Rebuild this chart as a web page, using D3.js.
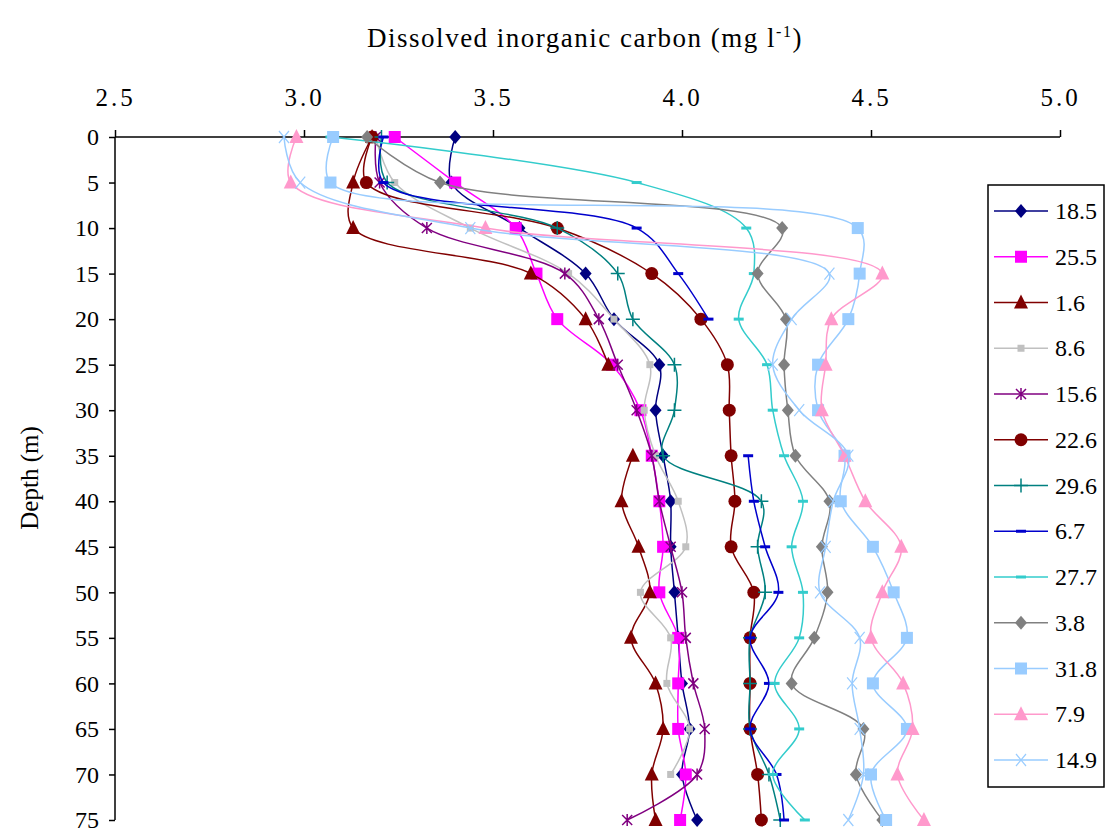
<!DOCTYPE html>
<html>
<head>
<meta charset="utf-8">
<style>
body { margin: 0; background: #fff; }
text { font-family: "Liberation Serif", "Times New Roman", serif; fill: #000; }
.axis path, .axis line { stroke: #000; stroke-width: 1.5; }
</style>
</head>
<body>
<svg width="1110" height="832"></svg>
<script src="https://d3js.org/d3.v7.min.js"></script>
<script>

// depths (m) and the DIC profile of each station, null = no sample
var depths = [0, 5, 10, 15, 20, 25, 30, 35, 40, 45, 50, 55, 60, 65, 70, 75];
var names = ["18.5", "25.5", "1.6", "8.6", "15.6", "22.6", "29.6", "6.7", "27.7", "3.8", "31.8", "7.9", "14.9"];

var s18_5 = [3.40, 3.39, 3.57, 3.745, 3.82, 3.94, 3.93, 3.95, 3.97, 3.97, 3.98, 3.99, 4.00, 4.02, 4.00, 4.04];
var s25_5 = [3.24, 3.40, 3.56, 3.615, 3.67, 3.815, 3.89, 3.92, 3.94, 3.95, 3.94, 3.99, 3.99, 3.99, 4.01, 3.995];
var s1_6  = [3.18, 3.13, 3.13, 3.60, 3.745, 3.805, null, 3.87, 3.84, 3.885, 3.915, 3.865, 3.93, 3.95, 3.92, 3.93];
var s8_6  = [3.19, 3.24, 3.44, 3.70, 3.82, 3.915, 3.90, 3.93, 3.99, 4.01, 3.89, 3.97, 3.96, 4.02, 3.97, null];
var s15_6 = [3.19, 3.20, 3.325, 3.69, 3.78, 3.83, 3.88, 3.92, 3.94, 3.97, 4.00, 4.01, 4.03, 4.06, 4.04, 3.855];
var s22_6 = [3.18, 3.165, 3.67, 3.92, 4.05, 4.12, 4.125, 4.13, 4.14, 4.13, 4.19, 4.18, 4.18, 4.18, 4.20, 4.21];
var s29_6 = [3.205, 3.22, 3.67, 3.83, 3.87, 3.98, 3.98, 3.95, 4.21, 4.20, 4.22, 4.18, 4.18, 4.18, 4.23, 4.26];
var s6_7  = [3.21, 3.21, 3.88, 3.99, 4.07, null, null, 4.175, 4.19, 4.22, 4.255, 4.18, 4.23, 4.18, 4.25, 4.27];
var s27_7 = [3.07, 3.88, 4.17, 4.19, 4.15, 4.225, 4.24, 4.27, 4.32, 4.29, 4.32, 4.31, 4.245, 4.31, 4.24, 4.325];
var s3_8  = [3.167, 3.36, 4.265, 4.20, 4.275, 4.27, 4.28, 4.30, 4.39, 4.37, 4.385, 4.35, 4.29, 4.48, 4.46, 4.53];
var s31_8 = [3.077, 3.07, 4.465, 4.47, 4.44, 4.36, 4.36, 4.43, 4.42, 4.505, 4.56, 4.595, 4.505, 4.595, 4.50, 4.54];
var s7_9  = [2.98, 2.965, 3.48, 4.53, 4.395, 4.38, 4.37, 4.43, 4.485, 4.58, 4.53, 4.50, 4.585, 4.61, 4.57, 4.64];
var s14_9 = [2.947, 2.99, 3.44, 4.39, 4.29, 4.24, 4.31, 4.44, 4.40, 4.38, 4.365, 4.47, 4.45, 4.47, 4.48, 4.44];

var xTicks = [2.5, 3.0, 3.5, 4.0, 4.5, 5.0];
var yTicks = depths;

var series = [
  {name: names[0],  values: s18_5, color: "#000080", marker: "diamond"},
  {name: names[1],  values: s25_5, color: "#FF00FF", marker: "square"},
  {name: names[2],  values: s1_6,  color: "#800000", marker: "triangle"},
  {name: names[3],  values: s8_6,  color: "#C0C0C0", marker: "smallsquare"},
  {name: names[4],  values: s15_6, color: "#800080", marker: "star"},
  {name: names[5],  values: s22_6, color: "#800000", marker: "circle"},
  {name: names[6],  values: s29_6, color: "#008080", marker: "plus"},
  {name: names[7],  values: s6_7,  color: "#0000CC", marker: "dash"},
  {name: names[8],  values: s27_7, color: "#33CCCC", marker: "dash"},
  {name: names[9],  values: s3_8,  color: "#808080", marker: "diamond"},
  {name: names[10], values: s31_8, color: "#99CCFF", marker: "square"},
  {name: names[11], values: s7_9,  color: "#FF99CC", marker: "triangle"},
  {name: names[12], values: s14_9, color: "#99CCFF", marker: "cross"}
];

var svg = d3.select("svg");

var x = d3.scaleLinear().domain([2.5, 5.0]).range([115, 1060]);
var y = d3.scaleLinear().domain([0, 75]).range([137, 820]);

// axes
svg.append("g")
    .attr("class", "axis")
    .attr("transform", "translate(0," + y(0) + ")")
    .call(d3.axisTop(x).tickValues(xTicks).tickFormat(d3.format(".1f")).tickSize(7).tickPadding(24))
    .call(function(g) { g.select(".domain").attr("d", "M" + x(2.5) + ",0H" + x(5.0)); })
    .selectAll("text").style("font-size", "25px").style("letter-spacing", "3px");

svg.append("g")
    .attr("class", "axis")
    .attr("transform", "translate(" + x(2.5) + ",0)")
    .call(d3.axisLeft(y).tickValues(yTicks).tickSize(6).tickPadding(10))
    .call(function(g) { g.select(".domain").attr("d", "M0," + y(0) + "V" + y(75)); })
    .selectAll("text").style("font-size", "24px");

// titles
var title = svg.append("text")
    .attr("x", 585).attr("y", 47)
    .attr("text-anchor", "middle")
    .style("font-size", "27px")
    .style("letter-spacing", "1.5px");
title.append("tspan").text("Dissolved inorganic carbon (mg l");
title.append("tspan").attr("dy", -10).style("font-size", "16px").text("-1");
title.append("tspan").attr("dy", 10).text(")");

svg.append("text")
    .attr("transform", "translate(38,478) rotate(-90)")
    .attr("text-anchor", "middle")
    .style("font-size", "25px")
    .text("Depth (m)");

// markers
function drawMarker(g, type, color, cx, cy) {
  var m;
  if (type === "diamond") {
    m = g.append("path").attr("d", "M0,-7L6,0L0,7L-6,0Z").attr("fill", color);
  } else if (type === "square") {
    m = g.append("rect").attr("x", -6).attr("y", -6).attr("width", 12).attr("height", 12).attr("fill", color);
  } else if (type === "smallsquare") {
    m = g.append("rect").attr("x", -3.5).attr("y", -3.5).attr("width", 7).attr("height", 7).attr("fill", color);
  } else if (type === "triangle") {
    m = g.append("path").attr("d", "M0,-8L7,6L-7,6Z").attr("fill", color);
  } else if (type === "circle") {
    m = g.append("circle").attr("r", 6.5).attr("fill", color);
  } else if (type === "plus") {
    m = g.append("path").attr("d", "M-7,0H7M0,-7V7").attr("stroke", color).attr("stroke-width", 1.5).attr("fill", "none");
  } else if (type === "dash") {
    m = g.append("path").attr("d", "M-5,0H5").attr("stroke", color).attr("stroke-width", 3).attr("fill", "none");
  } else if (type === "star") {
    m = g.append("path").attr("d", "M-5,-5L5,5M-5,5L5,-5M0,-6V6").attr("stroke", color).attr("stroke-width", 1.5).attr("fill", "none");
  } else if (type === "cross") {
    m = g.append("path").attr("d", "M-5,-6L5,6M-5,6L5,-6").attr("stroke", color).attr("stroke-width", 1.2).attr("fill", "none");
  }
  m.attr("transform", "translate(" + cx + "," + cy + ")");
}

var line = d3.line()
    .defined(function(d) { return d.v != null; })
    .x(function(d) { return x(d.v); })
    .y(function(d) { return y(d.d); })
    .curve(d3.curveCatmullRom.alpha(0.5));

var plot = svg.append("g");

series.forEach(function(s) {
  var pts = depths.map(function(d, i) { return {d: d, v: s.values[i]}; });
  var g = plot.append("g");
  g.append("path")
      .datum(pts)
      .attr("fill", "none")
      .attr("stroke", s.color)
      .attr("stroke-width", 1.5)
      .attr("d", line);
  pts.forEach(function(p) {
    if (p.v != null) drawMarker(g, s.marker, s.color, x(p.v), y(p.d));
  });
});

// legend
var legend = svg.append("g");
legend.append("rect")
    .attr("x", 988).attr("y", 185).attr("width", 116).attr("height", 602)
    .attr("fill", "#fff").attr("stroke", "#000").attr("stroke-width", 1.5);

series.forEach(function(s, i) {
  var ly = 211 + i * 45.75;
  var g = legend.append("g");
  g.append("line").attr("x1", 994).attr("x2", 1048).attr("y1", ly).attr("y2", ly)
      .attr("stroke", s.color).attr("stroke-width", 1.5);
  drawMarker(g, s.marker, s.color, 1021, ly);
  g.append("text").attr("x", 1055).attr("y", ly + 8).style("font-size", "24px").text(s.name);
});

</script>
</body>
</html>
